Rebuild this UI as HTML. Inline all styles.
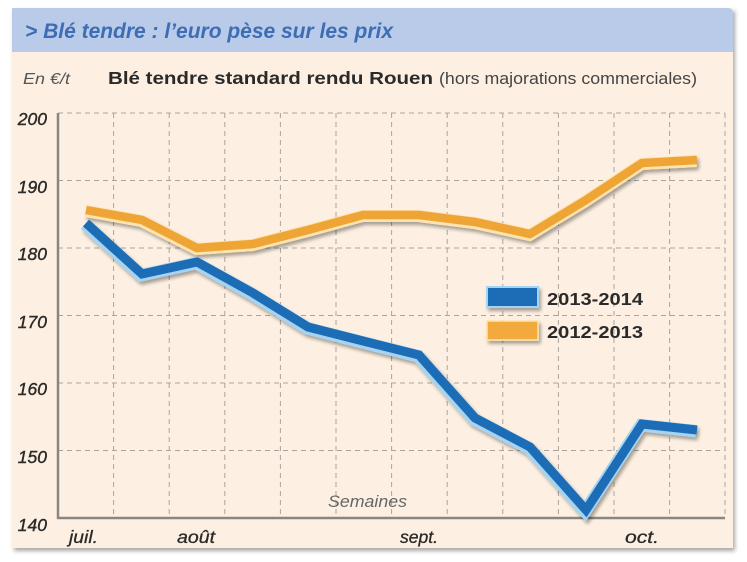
<!DOCTYPE html>
<html>
<head>
<meta charset="utf-8">
<style>
html,body{margin:0;padding:0;background:#fff;}
svg{display:block;}
text{font-family:"Liberation Sans",sans-serif;}
</style>
</head>
<body>
<svg width="747" height="562" viewBox="0 0 747 562" xmlns="http://www.w3.org/2000/svg">
<defs>
<filter id="psh" x="-5%" y="-5%" width="110%" height="110%">
<feGaussianBlur in="SourceAlpha" stdDeviation="2"/>
<feOffset dx="2" dy="3" result="o"/>
<feComponentTransfer><feFuncA type="linear" slope="0.35"/></feComponentTransfer>
<feMerge><feMergeNode/><feMergeNode in="SourceGraphic"/></feMerge>
</filter>
<filter id="lsh" x="-10%" y="-10%" width="120%" height="130%">
<feGaussianBlur in="SourceAlpha" stdDeviation="1.8"/>
<feOffset dx="2" dy="3" result="o"/>
<feComponentTransfer><feFuncA type="linear" slope="0.35"/></feComponentTransfer>
<feMerge><feMergeNode/><feMergeNode in="SourceGraphic"/></feMerge>
</filter>
</defs>

<!-- panel -->
<rect x="12" y="8" width="721" height="540" fill="#fdf0e2" filter="url(#psh)"/>
<path d="M12 8 H728 Q733 8 733 13 V52 H12 Z" fill="#b9cbe9"/>

<text x="25" y="38" font-size="21" font-weight="bold" font-style="italic" fill="#3d6db4" textLength="368" lengthAdjust="spacingAndGlyphs">&gt; Blé tendre : l’euro pèse sur les prix</text>

<text x="23" y="84" font-size="16" font-style="italic" fill="#555" textLength="47" lengthAdjust="spacingAndGlyphs">En €/t</text>
<text x="108" y="84" font-size="17.5" font-weight="bold" fill="#2a2a2a" textLength="325" lengthAdjust="spacingAndGlyphs">Blé tendre standard rendu Rouen</text>
<text x="439" y="84" font-size="17" fill="#444" textLength="258" lengthAdjust="spacingAndGlyphs">(hors majorations commerciales)</text>

<!-- grid -->
<g stroke="#aaa49e" stroke-width="1" stroke-dasharray="5,4" fill="none">
<line x1="58" y1="113" x2="725" y2="113"/>
<line x1="58" y1="180.5" x2="725" y2="180.5"/>
<line x1="58" y1="248" x2="725" y2="248"/>
<line x1="58" y1="315.5" x2="725" y2="315.5"/>
<line x1="58" y1="383" x2="725" y2="383"/>
<line x1="58" y1="450.5" x2="725" y2="450.5"/>
<line x1="113.6" y1="113" x2="113.6" y2="518"/>
<line x1="169.2" y1="113" x2="169.2" y2="518"/>
<line x1="224.8" y1="113" x2="224.8" y2="518"/>
<line x1="280.4" y1="113" x2="280.4" y2="518"/>
<line x1="336" y1="113" x2="336" y2="518"/>
<line x1="391.6" y1="113" x2="391.6" y2="518"/>
<line x1="447.2" y1="113" x2="447.2" y2="518"/>
<line x1="502.8" y1="113" x2="502.8" y2="518"/>
<line x1="558.4" y1="113" x2="558.4" y2="518"/>
<line x1="614" y1="113" x2="614" y2="518"/>
<line x1="669.6" y1="113" x2="669.6" y2="518"/>
<line x1="725" y1="113" x2="725" y2="518"/>
</g>

<!-- axes -->
<path d="M58 113 V518 H725" fill="none" stroke="#8a8580" stroke-width="2.5"/>

<!-- y labels -->
<g font-size="17.5" font-style="italic" fill="#2a2a2a" stroke="#2a2a2a" stroke-width="0.4" text-anchor="end">
<text x="47" y="125">200</text>
<text x="47" y="193">190</text>
<text x="47" y="260">180</text>
<text x="47" y="328">170</text>
<text x="47" y="395">160</text>
<text x="47" y="463">150</text>
<text x="47" y="531">140</text>
</g>

<!-- x labels -->
<g font-size="17.5" font-style="italic" fill="#2a2a2a" stroke="#2a2a2a" stroke-width="0.3">
<text x="69" y="543" textLength="29" lengthAdjust="spacingAndGlyphs">juil.</text>
<text x="177" y="543" textLength="38" lengthAdjust="spacingAndGlyphs">août</text>
<text x="400" y="543" textLength="38" lengthAdjust="spacingAndGlyphs">sept.</text>
<text x="625" y="543" textLength="34" lengthAdjust="spacingAndGlyphs">oct.</text>
</g>
<text x="328" y="507" font-size="17" font-style="italic" fill="#666" textLength="79" lengthAdjust="spacingAndGlyphs">Semaines</text>

<!-- orange series -->
<g filter="url(#lsh)" fill="none" stroke-linejoin="miter" stroke-linecap="butt">
<polyline transform="translate(-0.5,1)" points="86,210 142,220 197,248 253,244 308,230 363,215 419,215 475,222 530,234 586,200 642,163 697,160" stroke="#fde3ad" stroke-width="12"/>
<polyline points="86,210 142,220 197,248 253,244 308,230 363,215 419,215 475,222 530,234 586,200 642,163 697,160" stroke="#efa536" stroke-width="8.5"/>
</g>

<!-- blue series -->
<g filter="url(#lsh)" fill="none" stroke-linejoin="miter" stroke-linecap="butt">
<polyline transform="translate(-1,1.2)" points="86,223 142,274 197,262 253,293 308,327 363,341 419,355 475,418 530,447 586,510 642,424 697,430" stroke="#a5d4f2" stroke-width="12.5"/>
<polyline points="86,223 142,274 197,262 253,293 308,327 363,341 419,355 475,418 530,447 586,510 642,424 697,430" stroke="#1e6cb6" stroke-width="9"/>
</g>

<!-- legend -->
<g filter="url(#lsh)">
<rect x="487" y="287" width="51" height="20" fill="#1e6cb6" stroke="#a5d4f2" stroke-width="2"/>
<rect x="487" y="321" width="51" height="19" fill="#f3aa3c" stroke="#fde3ad" stroke-width="1.5"/>
</g>
<text x="547" y="305" font-size="17.5" font-weight="bold" fill="#2a2a2a" textLength="96" lengthAdjust="spacingAndGlyphs">2013-2014</text>
<text x="547" y="338" font-size="17.5" font-weight="bold" fill="#2a2a2a" textLength="96" lengthAdjust="spacingAndGlyphs">2012-2013</text>
</svg>
</body>
</html>
